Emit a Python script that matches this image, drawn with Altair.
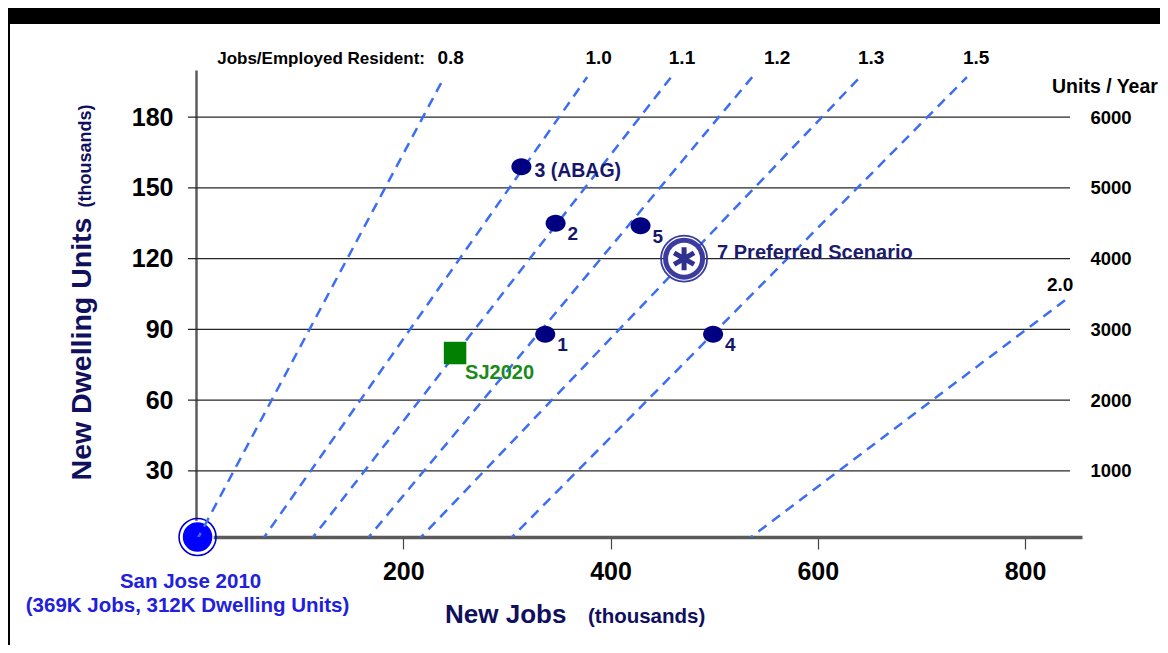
import altair as alt
import pandas as pd

# ---------------- data ----------------
scenario_labels = ["1", "2", "3 (ABAG)", "4", "5"]
scenario_jobs = [337, 347, 314, 499, 429]
scenario_units = [88, 135, 159, 88, 134]

preferred_label = ["7 Preferred Scenario"]
preferred_jobs = [471]
preferred_units = [120]

sj2020_label = ["SJ2020"]
sj2020_jobs = [250]
sj2020_units = [80]

base_label = ["San Jose 2010", "(369K Jobs, 312K Dwelling Units)"]
base_jobs = [1.5]
base_units = [2]

ratio_labels = ["0.8", "1.0", "1.1", "1.2", "1.3", "1.5", "2.0"]
ratio_jobs_start = [0, 62.7, 109.5, 163, 213, 300.5, 529.7]
ratio_units_start = [0, 0, 0, 0, 0, 0, 0]
ratio_jobs_end = [239.6, 377.5, 458.5, 536.7, 640.9, 744, 843.4]
ratio_units_end = [197, 197, 197, 197, 197, 197, 104]
ratio_label_jobs = [245.8, 388.6, 469, 560.8, 651.5, 752.8, 833.9]
ratio_label_units = [202.5, 202.5, 202.5, 202.5, 202.5, 202.5, 106.4]

y_ticks = [30, 60, 90, 120, 150, 180]
x_ticks = [200, 400, 600, 800]

# ---------------- tables ----------------
scen = pd.DataFrame({"label": scenario_labels, "jobs": scenario_jobs, "units": scenario_units})
pref = pd.DataFrame({"label": preferred_label, "jobs": preferred_jobs, "units": preferred_units})
sj20 = pd.DataFrame({"label": sj2020_label, "jobs": sj2020_jobs, "units": sj2020_units})
base = pd.DataFrame({"jobs": base_jobs, "units": base_units})
ratios = pd.DataFrame({
    "label": ratio_labels,
    "x0": ratio_jobs_start, "y0": ratio_units_start,
    "x1": ratio_jobs_end, "y1": ratio_units_end,
    "lx": ratio_label_jobs, "ly": ratio_label_units,
})
ticks = pd.DataFrame({"v": y_ticks})
dummy = pd.DataFrame({"k": [0]})

W, H = 886, 467
FONT = "Liberation Sans"
NAVY = "#000080"
TXT_NAVY = "#16166a"
RING = "#3c3ca0"
DASH = "#3d6ef2"

xs = alt.Scale(domain=[0, 855], nice=False, zero=False)
ys = alt.Scale(domain=[2, 200], nice=False, zero=False)

# black frame (top band and left strip)
frame_top = alt.Chart(dummy).mark_rect(color="black").encode(
    x=alt.value(-188), x2=alt.value(964), y=alt.value(-62), y2=alt.value(-46))
frame_left = alt.Chart(dummy).mark_rect(color="black").encode(
    x=alt.value(-188), x2=alt.value(-186), y=alt.value(-62), y2=alt.value(575))

# gridlines + left axis
grid = alt.Chart(ticks).mark_rule(color="#262626", strokeWidth=1.2).encode(
    y=alt.Y("v:Q", scale=ys, axis=alt.Axis(
        orient="left", values=y_ticks, ticks=False, tickSize=0,
        domainColor="#5c5c5c", domainWidth=2.5, grid=False,
        labelFont=FONT, labelFontSize=25, labelFontWeight="bold",
        labelColor="black", labelPadding=23, title=None)),
    x=alt.value(-8), x2=alt.value(874))

# San Jose 2010 base marker
base_ring = alt.Chart(base).mark_point(
    shape="circle", filled=False, size=1369, stroke="#0000cc", strokeWidth=1.6, opacity=1
).encode(x=alt.X("jobs:Q", scale=xs, axis=None), y=alt.Y("units:Q", scale=ys, axis=None))
base_dot = alt.Chart(base).mark_point(
    shape="circle", filled=True, size=961, fill="#0000ff", stroke="white", strokeWidth=1.5, opacity=1
).encode(x=alt.X("jobs:Q", scale=xs, axis=None), y=alt.Y("units:Q", scale=ys, axis=None))

# ratio lines + x axis
lines = alt.Chart(ratios).mark_rule(
    clip=True, color=DASH, strokeWidth=2.5, strokeDash=[10, 7]
).encode(
    x=alt.X("x0:Q", scale=xs, axis=alt.Axis(
        orient="bottom", values=x_ticks, tickSize=12, tickColor="#444", tickWidth=1.2,
        domainColor="#5a5a5a", domainWidth=3.5, grid=False,
        labelFont=FONT, labelFontSize=25, labelFontWeight="bold",
        labelColor="black", labelPadding=10, title=None)),
    y=alt.Y("y0:Q", scale=ys, axis=None),
    x2="x1:Q", y2="y1:Q")

# ratio labels + right axis
ratio_text = alt.Chart(ratios).mark_text(
    font=FONT, fontSize=19, fontWeight="bold", color="black",
    align="center", baseline="alphabetic"
).encode(
    x=alt.X("lx:Q", scale=xs, axis=None),
    y=alt.Y("ly:Q", scale=ys, axis=alt.Axis(
        orient="right", values=y_ticks, labelExpr="format(datum.value * 100 / 3, 'd')",
        ticks=False, tickSize=0, domain=False, grid=False,
        labelFont=FONT, labelFontSize=18.5, labelFontWeight="bold",
        labelColor="black", labelPadding=8, title=None)),
    text="label:N")

# scenario points
ellipse = "M-1,0A1,0.85,0,1,1,1,0A1,0.85,0,1,1,-1,0Z"
pts = alt.Chart(scen).mark_point(
    shape=ellipse, filled=True, size=400, color=NAVY, opacity=1
).encode(x=alt.X("jobs:Q", scale=xs, axis=None), y=alt.Y("units:Q", scale=ys, axis=None))

num_text = alt.Chart(scen).transform_filter("length(datum.label) == 1").mark_text(
    font=FONT, fontSize=19, fontWeight="bold", color=TXT_NAVY,
    align="left", baseline="alphabetic", dx=12, dy=17
).encode(x=alt.X("jobs:Q", scale=xs, axis=None), y=alt.Y("units:Q", scale=ys, axis=None), text="label:N")

abag_text = alt.Chart(scen).transform_filter("length(datum.label) > 1").mark_text(
    font=FONT, fontSize=19.5, fontWeight="bold", color=TXT_NAVY,
    align="left", baseline="alphabetic", dx=13, dy=10
).encode(x=alt.X("jobs:Q", scale=xs, axis=None), y=alt.Y("units:Q", scale=ys, axis=None), text="label:N")

# SJ2020
sj_sq = alt.Chart(sj20).mark_point(
    shape="square", filled=True, size=506, color="#008000", opacity=1
).encode(x=alt.X("jobs:Q", scale=xs, axis=None), y=alt.Y("units:Q", scale=ys, axis=None))
sj_text = alt.Chart(sj20).mark_text(
    font=FONT, fontSize=20, fontWeight="bold", color="#1a8a1a",
    align="left", baseline="alphabetic", dx=10, dy=26
).encode(x=alt.X("jobs:Q", scale=xs, axis=None), y=alt.Y("units:Q", scale=ys, axis=None), text="label:N")

# preferred scenario marker
enc_p = dict(x=alt.X("jobs:Q", scale=xs, axis=None), y=alt.Y("units:Q", scale=ys, axis=None))
pref_outer = alt.Chart(pref).mark_point(
    shape="circle", filled=False, size=2116, stroke=RING, strokeWidth=1.8, opacity=1).encode(**enc_p)
pref_ring = alt.Chart(pref).mark_point(
    shape="circle", filled=True, size=1369, fill="white", stroke=RING, strokeWidth=5, opacity=1).encode(**enc_p)
asterisk = "M0,-1L0,1M-0.866,-0.5L0.866,0.5M-0.866,0.5L0.866,-0.5"
pref_star = alt.Chart(pref).mark_point(
    shape=asterisk, filled=False, size=529, stroke="#303090", strokeWidth=5, opacity=1).encode(**enc_p)
pref_text = alt.Chart(pref).mark_text(
    font=FONT, fontSize=20, fontWeight="bold", color="#1c1c6c",
    align="left", baseline="alphabetic", dx=33, dy=0
).encode(text="label:N", **enc_p)

# San Jose 2010 annotation
enc_b = dict(x=alt.X("jobs:Q", scale=xs, axis=None), y=alt.Y("units:Q", scale=ys, axis=None))
base_t1 = alt.Chart(base).mark_text(
    font=FONT, fontSize=20.5, fontWeight="bold", color="#2020dd",
    align="center", baseline="alphabetic", dx=-7, dy=51
).encode(text=alt.value(base_label[0]), **enc_b)
base_t2 = alt.Chart(base).mark_text(
    font=FONT, fontSize=20.5, fontWeight="bold", color="#2020dd",
    align="center", baseline="alphabetic", dx=-10, dy=75
).encode(text=alt.value(base_label[1]), **enc_b)

# titles / headers
def txt(s, x, y, size, color, align="left", angle=0):
    kw = dict(font=FONT, fontSize=size, fontWeight="bold", color=color,
              align=align, baseline="alphabetic")
    if angle:
        kw["angle"] = angle
    return alt.Chart(dummy).mark_text(**kw).encode(
        x=alt.value(x), y=alt.value(y), text=alt.value(s))

TITLE = "#10105e"
t_y1 = txt("New Dwelling Units", -105, 279, 28.5, TITLE, align="center", angle=270)
t_y2 = txt("(thousands)", -105, 86, 18, TITLE, align="center", angle=270)
t_x1 = txt("New Jobs", 249, 553, 26, TITLE)
t_x2 = txt("(thousands)", 392, 553, 20.5, TITLE)
t_units = txt("Units / Year", 856, 23, 19.5, "black")
t_jobs = txt("Jobs/Employed Resident:", 229, -6, 17, "black", align="right")

chart = alt.layer(
    frame_top, frame_left, grid, base_ring, base_dot, lines, ratio_text,
    pts, num_text, abag_text, sj_sq, sj_text,
    pref_outer, pref_ring, pref_star, pref_text,
    base_t1, base_t2, t_y1, t_y2, t_x1, t_x2, t_units, t_jobs,
).resolve_axis(x="independent", y="independent").properties(
    width=W, height=H,
    autosize=alt.AutoSizeParams(type="none"),
    padding={"left": 188, "top": 62, "right": 78, "bottom": 108},
    background="white",
).configure_view(strokeWidth=0)

chart.save("out.html", embed_options={"renderer": "svg", "actions": False})
